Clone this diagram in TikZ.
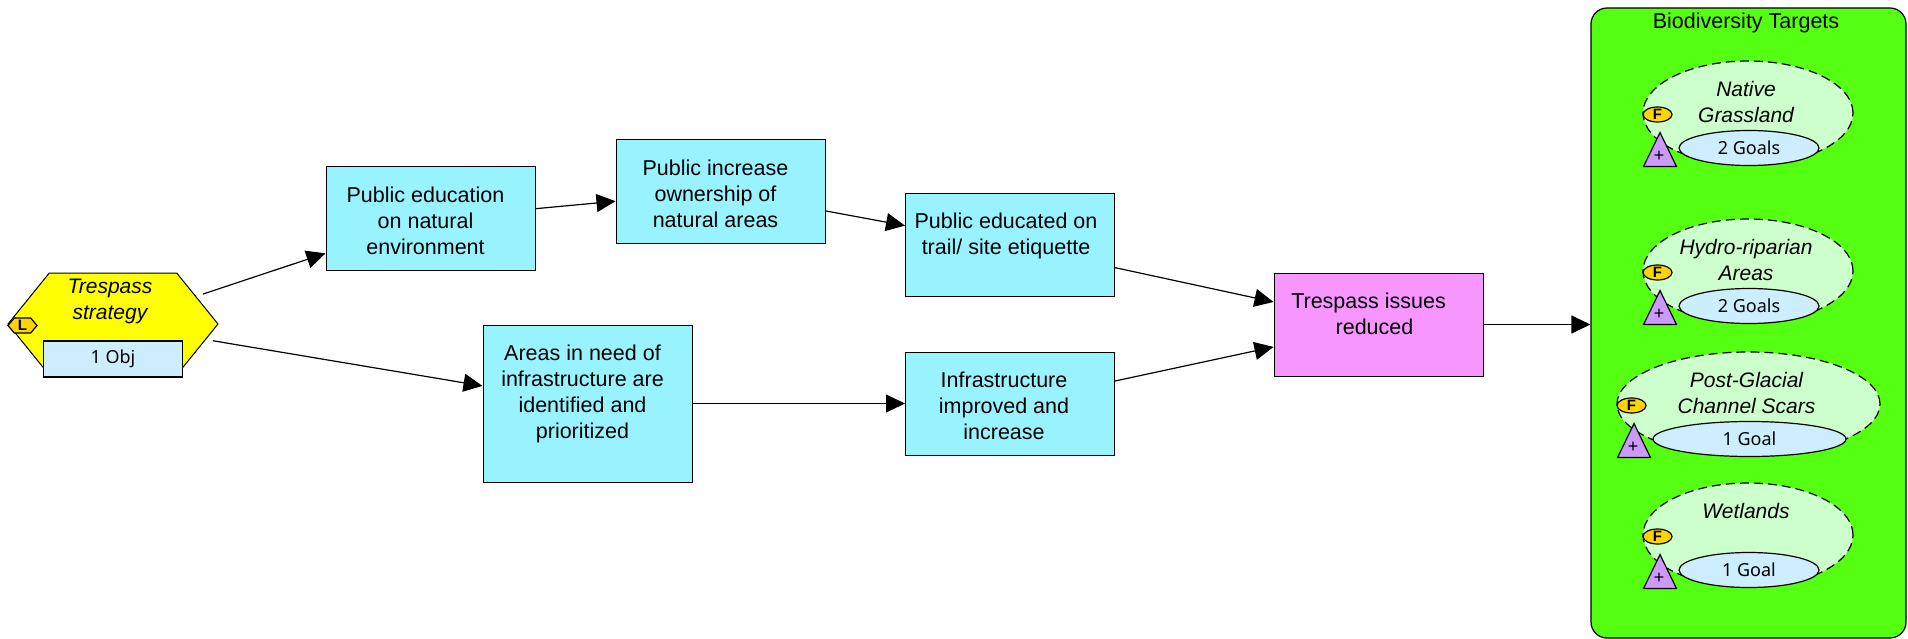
\documentclass[tikz,border=0pt]{standalone}
\usepackage{fontspec}
\setmainfont{Liberation Sans}
\newfontfamily\smallfont{Noto Sans}
\usetikzlibrary{arrows.meta,shapes.geometric,shapes.symbols}
\definecolor{boxblue}{HTML}{99F3FF}
\definecolor{boxpink}{HTML}{F896FF}
\definecolor{panelgreen}{HTML}{55FF11}
\definecolor{leadyellow}{HTML}{FFFF00}
\definecolor{paleblue}{HTML}{CCEEFF}
\definecolor{palegreen}{HTML}{CCFFCC}
\definecolor{tagpurple}{HTML}{CC99FF}
\definecolor{taggold}{HTML}{FFD400}
\tikzset{
  result/.style={rectangle,draw=black,line width=1pt,fill=boxblue,minimum width=209pt,minimum height=103pt,inner sep=0pt},
  boxtext/.style={anchor=north,align=center,inner sep=0pt,font=\fontsize{21.5}{26}\selectfont},
  nametext/.style={boxtext,font=\itshape\fontsize{21}{26}\selectfont},
  strategy/.style={signal,signal to=west and east,signal pointer angle=102,draw=black,line width=1pt,fill=leadyellow,minimum width=210pt,minimum height=102pt,inner sep=0pt},
  count/.style={rectangle,draw=black,line width=1.2pt,fill=paleblue,minimum width=139pt,minimum height=36pt,inner sep=0pt,font=\smallfont\fontsize{18}{20}\selectfont},
  leadtag/.style={signal,signal to=west and east,signal pointer angle=100,draw=black,line width=1.2pt,fill=taggold,minimum width=29pt,minimum height=15pt,inner sep=0pt,font=\bfseries\fontsize{15}{15}\selectfont},
  panel/.style={rectangle,rounded corners=16pt,draw=black,line width=1.2pt,fill=panelgreen,minimum width=315pt,minimum height=630pt,inner sep=0pt},
  target/.style={ellipse,draw=black,dash pattern=on 9pt off 5pt,line width=1.2pt,fill=palegreen,inner sep=0pt},
  goals/.style={ellipse,draw=black,line width=1.2pt,fill=paleblue,minimum height=35pt,inner sep=0pt,font=\smallfont\fontsize{18}{20}\selectfont},
  flag/.style={ellipse,draw=black,line width=1.2pt,fill=taggold,minimum width=29pt,minimum height=15pt,inner sep=0pt,font=\bfseries\fontsize{15}{15}\selectfont},
  threat/.style={isosceles triangle,isosceles triangle stretches,shape border rotate=90,draw=black,line width=1.2pt,fill=tagpurple,minimum width=33pt,minimum height=34pt,inner sep=0pt},
  link/.style={draw=black,line width=1.2pt,-{Triangle[length=19pt,width=18pt]}}
}
\begin{document}
\begin{tikzpicture}[x=1pt,y=-1pt]
  \useasboundingbox (0,0) rectangle (1908,639);

  \node[strategy] (lead) at (113,324) {};
  \node[nametext] (leadtxt) at (110,279) {Trespass\\strategy};
  \node[count] (leadobj) at (113,359) {1 Obj};
  \node[leadtag] (leadL) at (22.5,325.5) {L};

  \node[result] (b1) at (430.5,218.5) {};
  \node[result] (b2) at (720.5,191.5) {};
  \node[result] (b3) at (1010,245) {};
  \node[result,minimum height=157pt] (b4) at (587.5,403.5) {};
  \node[result] (b5) at (1010,403.5) {};
  \node[result,fill=boxpink] (b6) at (1378.5,324.5) {};
  \node[panel] (panel) at (1748.5,323) {};

  \node[boxtext] (t1) at ([xshift=-5pt,yshift=-20pt]b1.north) {Public education\\on natural\\environment};
  \node[boxtext] (t2) at ([xshift=-5pt,yshift=-20pt]b2.north) {Public increase~\\ownership of~\\natural areas};
  \node[boxtext] (t3) at ([xshift=-4pt,yshift=-20pt]b3.north) {Public educated on\\trail/ site etiquette};
  \node[boxtext] (t4) at ([xshift=-5pt,yshift=-20pt]b4.north) {Areas in need of\\infrastructure are\\identified and\\prioritized};
  \node[boxtext] (t5) at ([xshift=-6pt,yshift=-20pt]b5.north) {Infrastructure\\improved and\\increase};
  \node[boxtext] (t6) at ([xshift=-4pt,yshift=-20pt]b6.north) {Trespass issues~~~\\reduced};
  \node[boxtext] (paneltxt) at (1746,13) {Biodiversity Targets};

  \foreach \n/\x/\y/\rx/\goal/\name in {
      1/1748/113/105/2 Goals/{Native\\Grassland},
      2/1748/271/105/2 Goals/{Hydro-riparian\\Areas},
      3/1748.5/404/131.5/1 Goal/{Post-Glacial\\Channel Scars},
      4/1748/535/105/1 Goal/{Wetlands}}
  {
    \node[target,minimum width=2*\rx*1pt,minimum height=104pt] (tgt\n) at (\x,\y) {};
    \node[nametext] (tgttxt\n) at (\x-2,\y-32) {\name};
    \node[threat,anchor=apex] (thr\n) at (\x-\rx+17,\y+18) {};
    \node[font=\fontsize{18}{18}\selectfont,inner sep=0pt] (plus\n) at (\x-\rx+16,\y+43) {+};
    \node[goals,minimum width=(2*\rx-70)*1pt] (goal\n) at (\x+1,\y+35) {\goal};
    \node[flag] (flag\n) at (\x-\rx+14.5,\y+1.5) {F};
  }

  \foreach \from/\to in {lead/b1,lead/b4}
    \draw[link,shorten <=7pt] (\from) -- (\to);
  \foreach \from/\to in {b1/b2,b2/b3,b3/b6,b4/b5,b5/b6}
    \draw[link] (\from) -- (\to);
  \draw[link] (b6) -- (b6 -| panel.west);

\end{tikzpicture}
\end{document}
